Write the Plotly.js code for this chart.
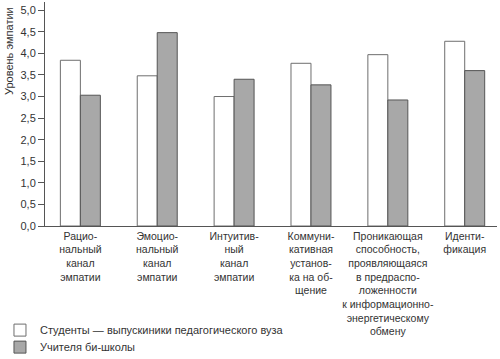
<!DOCTYPE html>
<html>
<head>
<meta charset="utf-8">
<script src="https://cdn.plot.ly/plotly-3.0.1.min.js"></script>
<style>html,body{margin:0;padding:0;background:#fff}#chart{width:500px;height:359px}</style>
</head>
<body>
<div id="chart"></div>
<script>
const categories = [
  "Рацио-<br>нальный<br>канал<br>эмпатии",
  "Эмоцио-<br>нальный<br>канал<br>эмпатии",
  "Интуитив-<br>ный<br>канал<br>эмпатии",
  "Коммуни-<br>кативная<br>установ-<br>ка на об-<br>щение",
  "Проникающая<br>способность,<br>проявляющаяся<br>в предраспо-<br>ложенности<br>к информационно-<br>энергетическому<br>обмену",
  "Иденти-<br>фикация"
];
const students = [3.84, 3.48, 3.00, 3.77, 3.97, 4.28];
const teachers = [3.03, 4.48, 3.40, 3.27, 2.92, 3.60];
const seriesNames = ["Студенты — выпускиники педагогического вуза", "Учителя би-школы"];
const yTickVals = [0, 0.5, 1, 1.5, 2, 2.5, 3, 3.5, 4, 4.5, 5];
const yTickText = ["0,0","0,5","1,0","1,5","2,0","2,5","3,0","3,5","4,0","4,5","5,0"];

const font = "Liberation Sans, Arial, sans-serif";
const data = [
  {type:"bar", x: categories.map((c,i)=>i), y: students, name: seriesNames[0], legend:"legend",
   marker:{color:"#ffffff", line:{color:"#6e6e6e", width:1}}},
  {type:"bar", x: categories.map((c,i)=>i), y: teachers, name: seriesNames[1], legend:"legend2",
   marker:{color:"#a8a8a8", line:{color:"#555555", width:1}}}
];
const legendBase = {orientation:"v", x:-0.0996, xanchor:"left", yanchor:"top",
  font:{family:font, size:11, color:"#333"}, itemclick:false, bgcolor:"rgba(0,0,0,0)"};
const layout = {
  width:500, height:359,
  margin:{l:45, r:3, t:2, b:133, autoexpand:false},
  paper_bgcolor:"#fff", plot_bgcolor:"#fff",
  font:{family:font, size:11, color:"#333"},
  barmode:"group", bargap:0.48, bargroupgap:0,
  showlegend:true,
  legend:Object.assign({}, legendBase, {y:-0.400}),
  legend2:Object.assign({}, legendBase, {y:-0.476}),
  xaxis:{type:"linear", range:[-0.46, 5.42], tickvals: categories.map((c,i)=>i), ticktext: categories,
         tickangle:0, automargin:false,
         showline:true, linecolor:"#555", linewidth:1, ticks:"", showgrid:false, zeroline:false,
         tickfont:{family:font, size:10.5, color:"#333"}, fixedrange:true},
  yaxis:{range:[0, 5.19], tickvals:yTickVals, ticktext:yTickText, showline:true, linecolor:"#555", linewidth:1,
         automargin:false,
         ticks:"outside", ticklen:6, tickcolor:"#555", showgrid:false, zeroline:false,
         tickfont:{family:font, size:11, color:"#333"}, fixedrange:true},
  annotations:[{text:"Уровень эмпатии", xref:"paper", yref:"paper", x:-0.078, y:0.78, textangle:-90,
                showarrow:false, xanchor:"center", yanchor:"middle", font:{family:font, size:11, color:"#333"}}]
};
Plotly.newPlot("chart", data, layout, {displayModeBar:false, staticPlot:true});
</script>
</body>
</html>
